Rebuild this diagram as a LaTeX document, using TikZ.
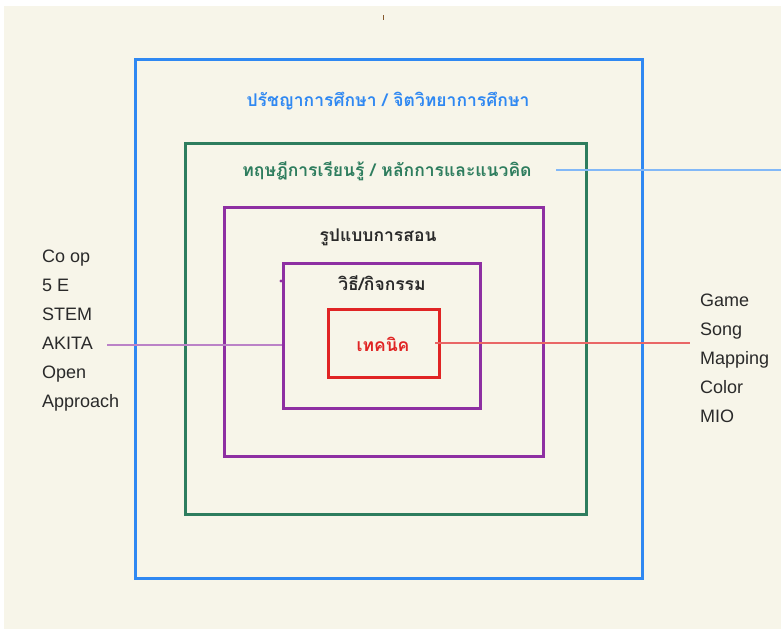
\documentclass[tikz,border=0pt]{standalone}
\usepackage{fontspec}
\setmainfont{Liberation Sans}
\newfontfamily\thai[Script=Thai]{Loma}
\definecolor{bg}{HTML}{F7F5E9}
\definecolor{cblue}{HTML}{2F88F2}
\definecolor{cgreen}{HTML}{2E7D5E}
\definecolor{cpurple}{HTML}{8E2FA2}
\definecolor{cred}{HTML}{E02424}
\definecolor{ctext}{HTML}{2A2A2A}
\tikzset{
  frame/.style={draw, line width=3pt, inner sep=0pt, fill=none},
  thaitxt/.style={font=\thai\bfseries\fontsize{17.5}{19}\selectfont, inner sep=0pt},
  listtxt/.style={font=\fontsize{18}{29}\selectfont, align=left, inner sep=0pt, text=ctext},
  link/.style={line width=1.3pt}
}
\begin{document}
\begin{tikzpicture}[x=1pt,y=-1pt]
\useasboundingbox (0,0) rectangle (781,629);
\fill[white] (0,0) rectangle (781,629);
\fill[bg] (4,6) rectangle (781,629);
\draw[brown!70!black, line width=1pt] (383,15) -- (383,20);
% frames
\node[frame, draw=cblue, minimum width=507pt, minimum height=519pt] (blue) at (388.5,318.5) {};
\node[frame, draw=cgreen, minimum width=401pt, minimum height=371pt] (green) at (385.5,328.5) {};
\node[frame, draw=cpurple, minimum width=319pt, minimum height=249pt] (model) at (383.5,331.5) {};
\node[frame, draw=cpurple, minimum width=197pt, minimum height=145pt] (method) at (381.5,335.5) {};
\node[frame, draw=cred, minimum width=111pt, minimum height=68pt] (tech) at (383.5,343) {};
% labels
\node[thaitxt, text=cblue] (tphil) at (388,101) {ปรัชญาการศึกษา / จิตวิทยาการศึกษา};
\node[thaitxt, text=cgreen] (ttheory) at (387,171) {ทฤษฎีการเรียนรู้ / หลักการและแนวคิด};
\node[thaitxt, text=ctext] (tmodel) at (378,237) {รูปแบบการสอน};
\node[thaitxt, text=ctext] (tmethod) at (382,283) {วิธี/กิจกรรม};
\node[thaitxt, text=cred] (ttech) at (383,344) {เทคนิค};
\fill[cpurple] (281,281) circle (1.6pt);
% lists
\node[listtxt, anchor=north west] (left) at (42,250) {Co op\\5 E\\STEM\\AKITA\\Open\\Approach};
\node[listtxt, anchor=north west] (right) at (700,294) {Game\\Song\\Mapping\\Color\\MIO};
% connectors
\coordinate (lstart) at (107,345);
\draw[link, cpurple!60] (lstart) -- (method.west |- lstart);
\coordinate (rstart) at (435,343);
\coordinate (rend) at (690,343);
\draw[link, cred!70] (rstart) -- (rend);
\coordinate (bstart) at (556,170);
\coordinate (bend) at (781,170);
\draw[link, cblue!60] (bstart) -- (bend);
\end{tikzpicture}
\end{document}
